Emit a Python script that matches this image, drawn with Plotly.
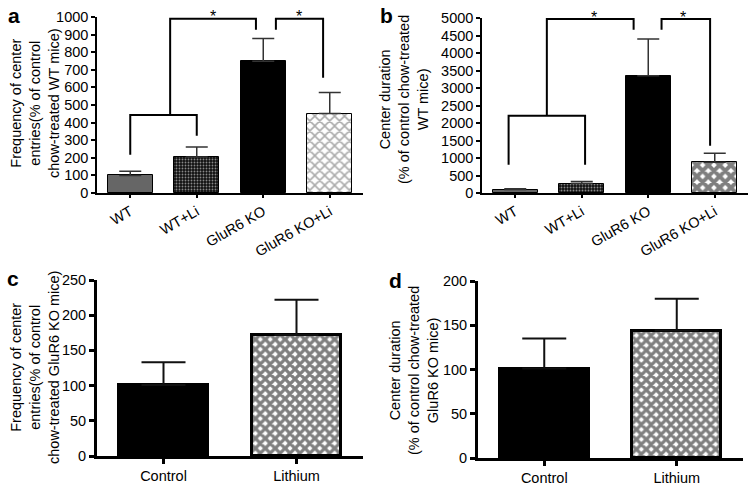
import plotly.graph_objects as go

# ---------------- data ----------------
groups_ab = ["WT", "WT+Li", "GluR6 KO", "GluR6 KO+Li"]
freq_a = [100, 205, 748, 451]
freq_a_err = [24, 56, 130, 120]
dur_b = [100, 268, 3352, 880]
dur_b_err = [25, 58, 1048, 255]

groups_cd = ["Control", "Lithium"]
freq_c = [101, 172]
freq_c_err = [32, 50]
dur_d = [101, 144]
dur_d_err = [34, 36]

# significance brackets (x in category index units, y in data units)
bracket_a_x = [[0, 0, 1, 1], [0.6, 0.6, 1.89, 1.89], [2.19, 2.19, 2.9, 2.9]]
bracket_a_y = [[217, 443, 443, 325], [443, 990, 990, 928], [928, 990, 990, 655]]
bracket_b_x = [[-0.1, -0.1, 1.05, 1.05], [0.475, 0.475, 1.78, 1.78], [2.2, 2.2, 2.93, 2.93]]
bracket_b_y = [[810, 2210, 2210, 810], [2210, 4970, 4970, 4667], [4667, 4970, 4970, 1352]]
stars_a_x = [1.24, 2.54]
stars_b_x = [1.18, 2.53]

FONT = "Liberation Sans, Arial, Helvetica, sans-serif"
W, H = 752, 486
FS = 14.5

fig = go.Figure()

def px2x(p):
    return p / W

def px2y(p):
    return 1 - p / H

checker = dict(shape=".", size=3, solidity=0.3, fgcolor="#fff", bgcolor="#111")

# ---------- panel a ----------
pat_a = [
    dict(shape=""),
    checker,
    dict(shape=""),
    dict(shape="x", size=7, solidity=0.4, fgcolor="#555", bgcolor="#fff"),
]
cols_a = ["#666666", "#ffffff", "#000000", "#ffffff"]
for i in range(4):
    fig.add_trace(go.Bar(
        x=[i], y=[freq_a[i]], width=0.67, xaxis="x", yaxis="y",
        marker=dict(color=cols_a[i], line=dict(color="#000", width=1), pattern=pat_a[i]),
        error_y=dict(type="data", symmetric=False, array=[freq_a_err[i]], arrayminus=[0],
                     color="#333", thickness=1.5, width=11),
        showlegend=False))
for bx, by in zip(bracket_a_x, bracket_a_y):
    fig.add_trace(go.Scatter(x=bx, y=by, mode="lines", xaxis="x", yaxis="y",
                             line=dict(color="#000", width=2), showlegend=False, cliponaxis=False))

# ---------- panel b ----------
pat_b = [
    dict(shape=""),
    checker,
    dict(shape=""),
    dict(shape="x", size=8, solidity=0.75, fgcolor="#000", bgcolor="#fff"),
]
cols_b = ["#666666", "#ffffff", "#000000", "#ffffff"]
for i in range(4):
    fig.add_trace(go.Bar(
        x=[i], y=[dur_b[i]], width=0.67, xaxis="x2", yaxis="y2",
        marker=dict(color=cols_b[i], line=dict(color="#000", width=1), pattern=pat_b[i]),
        error_y=dict(type="data", symmetric=False, array=[dur_b_err[i]], arrayminus=[0],
                     color="#333", thickness=1.5, width=11),
        showlegend=False))
for bx, by in zip(bracket_b_x, bracket_b_y):
    fig.add_trace(go.Scatter(x=bx, y=by, mode="lines", xaxis="x2", yaxis="y2",
                             line=dict(color="#000", width=2), showlegend=False, cliponaxis=False))

# ---------- panel c ----------
pat_cd = [dict(shape=""), dict(shape="x", size=7, solidity=0.72, fgcolor="#000", bgcolor="#fff")]
cols_cd = ["#000000", "#ffffff"]
for i in range(2):
    fig.add_trace(go.Bar(
        x=[i], y=[freq_c[i]], width=0.67, xaxis="x3", yaxis="y3",
        marker=dict(color=cols_cd[i], line=dict(color="#000", width=3), pattern=pat_cd[i]),
        error_y=dict(type="data", symmetric=False, array=[freq_c_err[i]], arrayminus=[0],
                     color="#111", thickness=2, width=22),
        showlegend=False))

# ---------- panel d ----------
for i in range(2):
    fig.add_trace(go.Bar(
        x=[i], y=[dur_d[i]], width=0.67, xaxis="x4", yaxis="y4",
        marker=dict(color=cols_cd[i], line=dict(color="#000", width=3), pattern=pat_cd[i]),
        error_y=dict(type="data", symmetric=False, array=[dur_d_err[i]], arrayminus=[0],
                     color="#111", thickness=2, width=22),
        showlegend=False))

tickfont = dict(family=FONT, size=FS, color="#000")

def xax(domain, anchor, n, labels, angle, lw, tl):
    return dict(domain=domain, anchor=anchor, range=[-0.5, n - 0.5],
                tickvals=list(range(n)), ticktext=labels, tickangle=angle,
                showline=True, linecolor="#000", linewidth=lw, ticks="outside",
                ticklen=tl, tickwidth=lw, tickcolor="#000", showgrid=False, zeroline=False,
                tickfont=tickfont, fixedrange=True, automargin=False)

def yax(domain, anchor, rng, dt, lw, tl):
    return dict(domain=domain, anchor=anchor, range=rng, dtick=dt,
                showline=True, linecolor="#000", linewidth=lw, ticks="outside",
                ticklen=tl, tickwidth=lw, tickcolor="#000", showgrid=False, zeroline=False,
                tickfont=tickfont, fixedrange=True, automargin=False)

fig.update_layout(
    width=W, height=H, margin=dict(l=0, r=0, t=0, b=0),
    paper_bgcolor="#fff", plot_bgcolor="#fff", bargap=0,
    font=dict(family=FONT, size=FS, color="#000"),
    xaxis=xax([px2x(97), px2x(363)], "y", 4, groups_ab, -30, 1.5, 3),
    yaxis=yax([px2y(193), px2y(17)], "x", [0, 1000], 100, 1.5, 4),
    xaxis2=xax([px2x(482), px2x(748)], "y2", 4, groups_ab, -30, 1.5, 3),
    yaxis2=yax([px2y(193), px2y(18)], "x2", [0, 5000], 500, 1.5, 4),
    xaxis3=xax([px2x(97), px2x(363)], "y3", 2, groups_cd, 0, 3, 5),
    yaxis3=yax([px2y(456), px2y(280)], "x3", [0, 250], 50, 3, 5),
    xaxis4=xax([px2x(478), px2x(743)], "y4", 2, groups_cd, 0, 3, 5),
    yaxis4=yax([px2y(458), px2y(281)], "x4", [0, 200], 50, 3, 5),
)

ann = []
# axis titles
titles = [
    ("Frequency of center<br>entries(% of control<br>chow-treated WT mice)", 35, 103),
    ("Center duration<br>(% of control chow-treated<br>WT mice)", 404, 100),
    ("Frequency of center<br>entries(% of control<br>chow-treated GluR6 KO mice)", 35, 368),
    ("Center duration<br>(% of control chow-treated<br>GluR6 KO mice)", 414, 370),
]
for t, x, y in titles:
    ann.append(dict(text=t, x=px2x(x), y=px2y(y), xref="paper", yref="paper",
                    textangle=-90, showarrow=False, xanchor="center", yanchor="middle",
                    font=dict(family=FONT, size=FS, color="#000")))
# panel letters
for t, x, y in [("a", 14, 16), ("b", 386, 15), ("c", 13, 278), ("d", 395, 280)]:
    ann.append(dict(text="<b>%s</b>" % t, x=px2x(x), y=px2y(y), xref="paper", yref="paper",
                    showarrow=False, xanchor="center", yanchor="middle",
                    font=dict(family=FONT, size=21, color="#000")))
# stars
for sx in stars_a_x:
    ann.append(dict(text="*", x=sx, y=1.005, xref="x", yref="y domain", showarrow=False,
                    yanchor="middle", font=dict(family=FONT, size=16, color="#000")))
for sx in stars_b_x:
    ann.append(dict(text="*", x=sx, y=1.005, xref="x2", yref="y2 domain", showarrow=False,
                    yanchor="middle", font=dict(family=FONT, size=16, color="#000")))
fig.update_layout(annotations=ann)

fig.write_html("out.html", config={"displayModeBar": False},
               post_script="document.body.style.margin='0px';")
